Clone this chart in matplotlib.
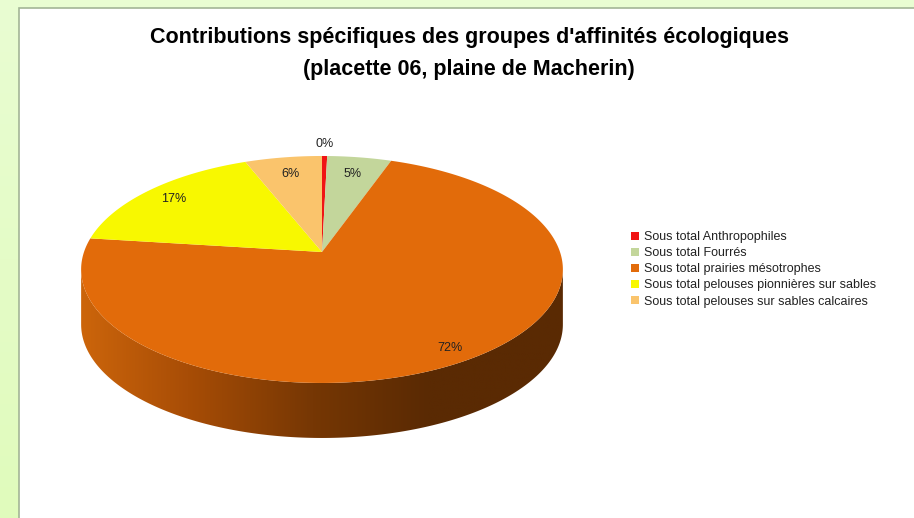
import numpy as np
import matplotlib
matplotlib.use("Agg")
import matplotlib.pyplot as plt
from matplotlib.patches import Polygon, Rectangle, Patch
from matplotlib.colors import LinearSegmentedColormap

# ---- data ----
categories = ["Sous total Anthropophiles", "Sous total Fourrés",
              "Sous total prairies mésotrophes",
              "Sous total pelouses pionnières sur sables",
              "Sous total pelouses sur sables calcaires"]
values = [0.4, 5.0, 71.6, 17.0, 6.0]
colors = ["#f01414", "#c3d69b", "#e26b0a", "#f8f800", "#fac46c"]
title_lines = ["Contributions spécifiques des groupes d'affinités écologiques",
               "(placette 06, plaine de Macherin)"]

# ---- geometry (pixel layout) ----
W, H = 914, 518
cx, cy = 322, 252      # apex of the pie
A, K, P = 238, 110.8, 0.154
DEPTH = 55
label_radius = [1.15, 0.8, 0.9, 0.85, 0.8]

fonts = ['Liberation Sans Narrow', 'Liberation Sans', 'DejaVu Sans']

def proj(theta_deg, f=1.0):
    t = np.radians(theta_deg)
    z = 1 + P * f * np.cos(t)
    return cx + A * f * np.sin(t) / z, cy - K * f * np.cos(t) / z

fig = plt.figure(figsize=(W / 100, H / 100), dpi=100)
ax = fig.add_axes([0, 0, 1, 1])
ax.set_xlim(0, W)
ax.set_ylim(H, 0)
ax.axis('off')

# background
bg = LinearSegmentedColormap.from_list("bg", ["#e9fdd2", "#e0fbbc"])
ax.imshow(np.linspace(0, 1, 50).reshape(-1, 1), cmap=bg, extent=[0, W, H, 0],
          aspect='auto', zorder=0)
ax.add_patch(Rectangle((19, 8), W - 19 + 5, H - 8 + 5, facecolor='white',
                       edgecolor='#a3b596', lw=1.2, zorder=1))

# side of pie (front face)
th0 = np.degrees(np.arccos(-P))
ths = np.linspace(th0, 360 - th0, 300)
tx, ty = proj(ths)
side = np.column_stack([np.concatenate([tx, tx[::-1]]),
                        np.concatenate([ty, ty[::-1] + DEPTH])])
side_poly = Polygon(side, closed=True, facecolor='none', edgecolor='none', zorder=2)
ax.add_patch(side_poly)
grad = LinearSegmentedColormap.from_list(
    "side", [(0.0, "#cc650b"), (0.22, "#a84d06"), (0.48, "#763704"),
             (0.72, "#5a2a03"), (1.0, "#5a2a03")])
xmin, xmax = tx.min(), tx.max()
im = ax.imshow(np.linspace(0, 1, 256).reshape(1, -1), cmap=grad,
               extent=[xmin, xmax, ty.max() + DEPTH + 2, ty.min() - 2],
               aspect='auto', zorder=2)
im.set_clip_path(side_poly)

# top wedges, starting at 12 o'clock, clockwise
total = sum(values)
start = 0.0
for v, c, cat, rf in zip(values, colors, categories, label_radius):
    span = 360.0 * v / total
    th = np.linspace(start, start + span, max(3, int(span * 2)))
    x, y = proj(th)
    pts = np.column_stack([np.concatenate([[cx], x]), np.concatenate([[cy], y])])
    ax.add_patch(Polygon(pts, closed=True, facecolor=c, edgecolor='none', zorder=3))
    lx, ly = proj(start + span / 2, rf)
    ax.text(lx, ly, f"{round(v):d}%", ha='center', va='center', fontsize=9,
            color='#222222', family=fonts, zorder=5)
    start += span

# title
ax.text(469, 38, title_lines[0], ha='center', va='center', fontsize=15.5,
        fontweight='bold', family=fonts, color='black', zorder=5)
ax.text(469, 69, title_lines[1], ha='center', va='center', fontsize=15.5,
        fontweight='bold', family=fonts, color='black', zorder=5)

# legend
handles = [Patch(facecolor=c, edgecolor='none') for c in colors]
leg = ax.legend(handles, categories, loc='upper left',
                bbox_to_anchor=(631, 231), bbox_transform=ax.transData,
                frameon=False, handlelength=0.6, handleheight=0.6,
                handletextpad=0.4, labelspacing=0.33, borderaxespad=0,
                borderpad=0, prop={'family': fonts, 'size': 9})
for t in leg.get_texts():
    t.set_color('#222222')

fig.savefig("out.png", dpi=100)
